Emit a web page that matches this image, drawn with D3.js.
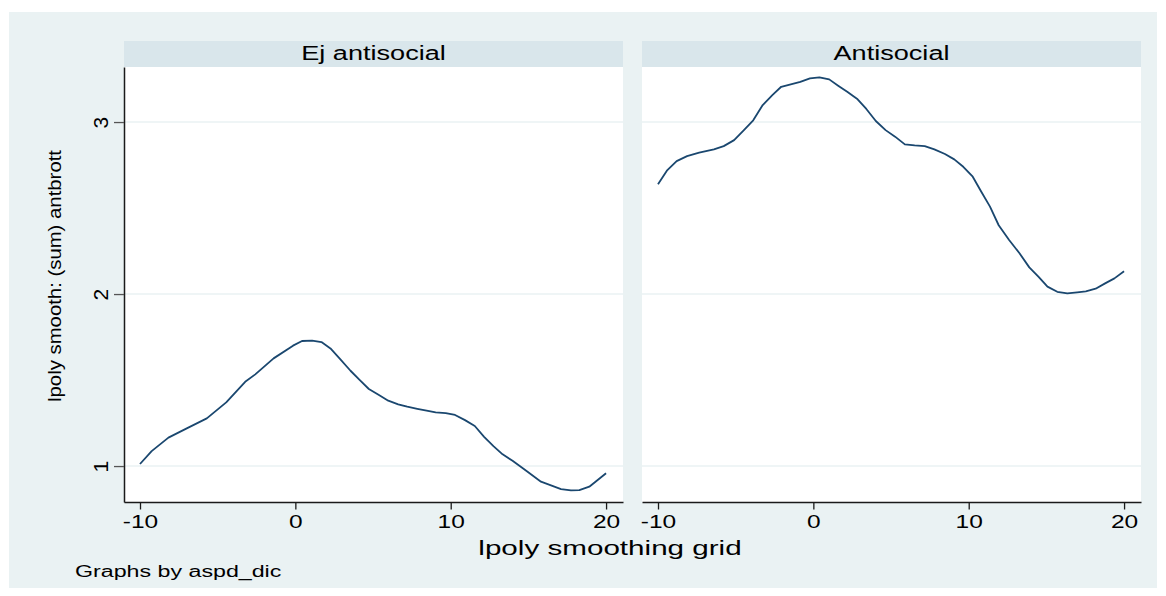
<!DOCTYPE html>
<html>
<head>
<meta charset="utf-8">
<script src="https://cdn.jsdelivr.net/npm/d3@7"></script>
<style>
    body { margin: 0; background: #ffffff; }
    .text { font-family: "Liberation Sans", Arial, sans-serif; fill: #000000; }
</style>
</head>
<body>
<div id="chart"></div>
<script>
// lpoly grid points, one pair of arrays per by-group
const ejX = [-10, -9.25, -8.17, -6.99, -5.7, -4.45, -3.23, -2.58, -1.4, -0.15, 0.43, 1.08, 1.68, 2.26, 2.9, 3.55, 4.15, 4.73, 5.38, 5.98, 6.62, 7.2, 7.85, 8.45, 9.03, 9.68, 10.28, 10.92, 11.55, 12.15, 12.75, 13.34, 13.98, 14.73, 15.81, 17.1, 17.74, 18.28, 18.92, 20];
const ejY = [1.012, 1.087, 1.165, 1.219, 1.277, 1.370, 1.49, 1.533, 1.626, 1.70, 1.727, 1.729, 1.721, 1.684, 1.62, 1.554, 1.50, 1.448, 1.413, 1.38, 1.359, 1.345, 1.333, 1.322, 1.312, 1.308, 1.297, 1.267, 1.233, 1.17, 1.116, 1.068, 1.031, 0.981, 0.909, 0.866, 0.859, 0.860, 0.880, 0.958];

const asX = [-10, -9.43, -8.8, -8.13, -7.35, -6.4, -5.77, -5.1, -4.47, -3.87, -3.26, -2.64, -2.07, -0.84, -0.22, 0.39, 1.02, 1.62, 2.18, 2.85, 3.41, 4.02, 4.65, 5.26, 5.89, 6.52, 7.17, 7.79, 8.47, 9.07, 9.65, 10.26, 10.81, 11.37, 11.93, 12.6, 13.27, 13.9, 14.5, 15.07, 15.7, 16.35, 16.98, 17.54, 18.17, 18.78, 19.38, 20];
const asY = [2.638, 2.717, 2.773, 2.802, 2.822, 2.841, 2.860, 2.895, 2.953, 3.01, 3.099, 3.157, 3.205, 3.234, 3.254, 3.26, 3.248, 3.21, 3.176, 3.132, 3.076, 3.006, 2.953, 2.915, 2.87, 2.864, 2.86, 2.841, 2.814, 2.783, 2.74, 2.682, 2.595, 2.508, 2.40, 2.314, 2.237, 2.155, 2.10, 2.043, 2.013, 2.004, 2.01, 2.016, 2.031, 2.062, 2.091, 2.132];

const panelTitles = ["Ej antisocial", "Antisocial"];
const xTicks = [-10, 0, 10, 20];
const yTicks = [1, 2, 3];

const panels = [
    { title: panelTitles[0], x: ejX, y: ejY },
    { title: panelTitles[1], x: asX, y: asY }
];

// Stata draws horizontal text wider than Arial, so stretch it to match
function stretch(sel, k) {
    sel.each(function () {
        const w = this.getComputedTextLength();
        d3.select(this).attr("textLength", w * k).attr("lengthAdjust", "spacingAndGlyphs");
    });
}

function drawChart() {
    const dimensions = {
        width: 1166,
        height: 596,
        panelTop: 67,
        panelBottom: 502,
        stripHeight: 26,
        panelLefts: [124, 642],
        panelWidth: 499
    };

    const svg = d3.select("#chart").append("svg")
        .attr("width", dimensions.width)
        .attr("height", dimensions.height);

    // graph region background
    svg.append("rect")
        .attr("x", 9).attr("y", 12)
        .attr("width", 1148).attr("height", 576)
        .attr("fill", "#eaf2f3");

    const plotHeight = dimensions.panelBottom - dimensions.panelTop;

    const xScale = d3.scaleLinear()
        .domain([-11.03, 21.09])
        .range([0, dimensions.panelWidth]);

    const yScale = d3.scaleLinear()
        .domain([0.791, 3.32])
        .range([plotHeight, 0]);

    const line = d3.line()
        .x(d => xScale(d[0]))
        .y(d => yScale(d[1]));

    // plain hyphen for negatives, as in the original
    const plainFormat = d => String(d);

    panels.forEach((p, i) => {
        const g = svg.append("g")
            .attr("transform", `translate(${dimensions.panelLefts[i]},${dimensions.panelTop})`);

        // by-group label strip
        g.append("rect")
            .attr("x", 0).attr("y", -dimensions.stripHeight)
            .attr("width", dimensions.panelWidth).attr("height", dimensions.stripHeight)
            .attr("fill", "#d9e6eb");

        g.append("text")
            .attr("class", "text")
            .attr("x", dimensions.panelWidth / 2)
            .attr("y", -7.5)
            .attr("text-anchor", "middle")
            .style("font-size", "19.5px")
            .text(p.title)
            .call(stretch, 1.39);

        // plot region
        g.append("rect")
            .attr("width", dimensions.panelWidth).attr("height", plotHeight)
            .attr("fill", "#ffffff");

        // grid lines
        g.selectAll(".grid")
            .data(yTicks)
            .enter().append("line")
            .attr("class", "grid")
            .attr("x1", 0).attr("x2", dimensions.panelWidth)
            .attr("y1", d => yScale(d)).attr("y2", d => yScale(d))
            .attr("stroke", "#eaf2f3")
            .attr("stroke-width", 1.5);

        // smoothed line
        g.append("path")
            .datum(d3.zip(p.x, p.y))
            .attr("d", line)
            .attr("fill", "none")
            .attr("stroke", "#1a476f")
            .attr("stroke-width", 1.8)
            .attr("stroke-linejoin", "round");

        // x axis
        const xAxis = g.append("g")
            .attr("transform", `translate(0,${plotHeight})`)
            .call(d3.axisBottom(xScale).tickValues(xTicks).tickFormat(plainFormat).tickSize(7.5).tickSizeOuter(0).tickPadding(9));

        xAxis.select(".domain").attr("stroke", "#1a1a1a").attr("stroke-width", 1.5);
        xAxis.selectAll(".tick line").attr("stroke", "#1a1a1a").attr("stroke-width", 1.3);
        xAxis.selectAll(".tick text")
            .attr("class", "text")
            .attr("dy", null)
            .attr("y", 26)
            .style("font-size", "18px")
            .attr("font-family", null)
            .call(stretch, 1.36);

        // y axis only on the first panel
        if (i === 0) {
            const yAxis = g.append("g")
                .call(d3.axisLeft(yScale).tickValues(yTicks).tickSize(10).tickSizeOuter(0).tickFormat(plainFormat));

            yAxis.select(".domain").attr("stroke", "#1a1a1a").attr("stroke-width", 1.5);
            yAxis.selectAll(".tick line").attr("stroke", "#555555").attr("stroke-width", 1.3);
            yAxis.selectAll(".tick text")
                .attr("class", "text")
                .attr("x", null).attr("dy", null)
                .attr("transform", "translate(-16,0) rotate(-90)")
                .attr("text-anchor", "middle")
                .style("font-size", "21px");
        }
    });

    // axis titles and note
    svg.append("text")
        .attr("class", "text")
        .attr("x", 610)
        .attr("y", 555)
        .attr("text-anchor", "middle")
        .style("font-size", "21px")
        .text("lpoly smoothing grid")
        .call(stretch, 1.41);

    svg.append("text")
        .attr("class", "text")
        .attr("transform", "translate(61,276) rotate(-90)")
        .attr("text-anchor", "middle")
        .attr("textLength", 252)
        .attr("lengthAdjust", "spacingAndGlyphs")
        .style("font-size", "18px")
        .text("lpoly smooth: (sum) antbrott");

    svg.append("text")
        .attr("class", "text")
        .attr("x", 75)
        .attr("y", 577)
        .style("font-size", "16px")
        .text("Graphs by aspd_dic")
        .call(stretch, 1.45);
}

drawChart();
</script>
</body>
</html>
